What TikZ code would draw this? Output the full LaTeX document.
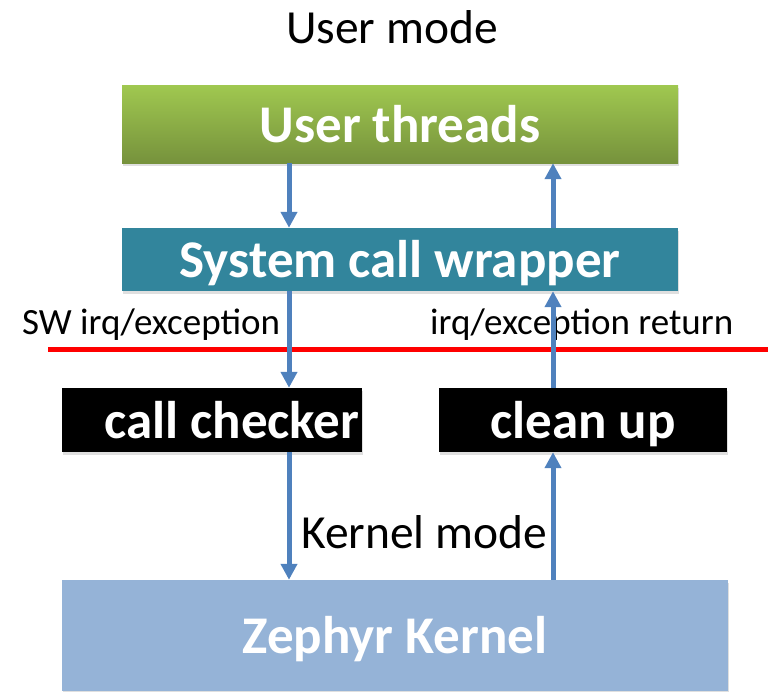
\documentclass[tikz,border=0pt]{standalone}
\usepackage{fontspec}
\setmainfont{Carlito}
\usetikzlibrary{arrows.meta,shadows}
\definecolor{arrowblue}{RGB}{79,129,189}
\definecolor{greentop}{RGB}{160,200,80}
\definecolor{greenbot}{RGB}{118,146,60}
\definecolor{tealbox}{RGB}{50,133,156}
\definecolor{kernelblue}{RGB}{149,179,215}
\tikzset{
  boxbase/.style={draw=none, inner sep=0pt, text=white, font=\fontsize{53}{60}\selectfont\bfseries,
    text height=36pt, text depth=0pt,
    drop shadow={opacity=0.25, shadow xshift=1pt, shadow yshift=-3pt}},
  flowarrow/.style={draw=arrowblue, line width=5pt, -{Triangle[width=16pt,length=16pt]}},
  biglabel/.style={inner sep=0pt, font=\fontsize{47.5}{56}\selectfont},
  smalllabel/.style={inner sep=0pt, font=\fontsize{37}{44}\selectfont}
}
\begin{document}
\begin{tikzpicture}[x=1pt,y=1pt]
\useasboundingbox (0,0) rectangle (768,-691);
% boxes
\node[boxbase, top color=greentop, bottom color=greenbot, minimum width=556pt, minimum height=78pt] (ut) at (400,-124) {User threads};
\node[boxbase, fill=tealbox, minimum width=556pt, minimum height=63pt] (scw) at (400,-259.5) {System call wrapper};
\node[boxbase, fill=black, minimum width=300pt, minimum height=64pt] (cc) at (212,-420) {\hspace*{40pt}call checker};
\node[boxbase, fill=black, minimum width=288pt, minimum height=64pt] (cu) at (583,-420) {clean up};
\node[boxbase, fill=kernelblue, drop shadow={opacity=0}, minimum width=666pt, minimum height=111pt] (zk) at (395,-635.5) {Zephyr Kernel};
% labels
\node[biglabel, anchor=base] (um) at (392,-43) {User mode};
\node[biglabel, anchor=base west] (km) at (301,-548) {Kernel mode};
\node[smalllabel, anchor=base west] (swl) at (22,-334) {SW irq/exception};
\node[smalllabel, anchor=base west] (rl) at (430,-334) {irq/exception return};
% red boundary
\coordinate (redl) at (48,-349);
\coordinate (redr) at (768,-349);
\draw[red, line width=5pt] (redl) -- (redr);
% arrow columns
\coordinate (lx) at (289,0);
\coordinate (rx) at (553,0);
\draw[flowarrow] (ut.south -| lx) -- (scw.north -| lx);
\draw[flowarrow] (scw.north -| rx) -- (ut.south -| rx);
\draw[flowarrow] (scw.south -| lx) -- (cc.north -| lx);
\draw[flowarrow] (cu.north -| rx) -- (scw.south -| rx);
\draw[flowarrow] (cc.south -| lx) -- (zk.north -| lx);
\draw[flowarrow] (zk.north -| rx) -- (cu.south -| rx);
\end{tikzpicture}
\end{document}
